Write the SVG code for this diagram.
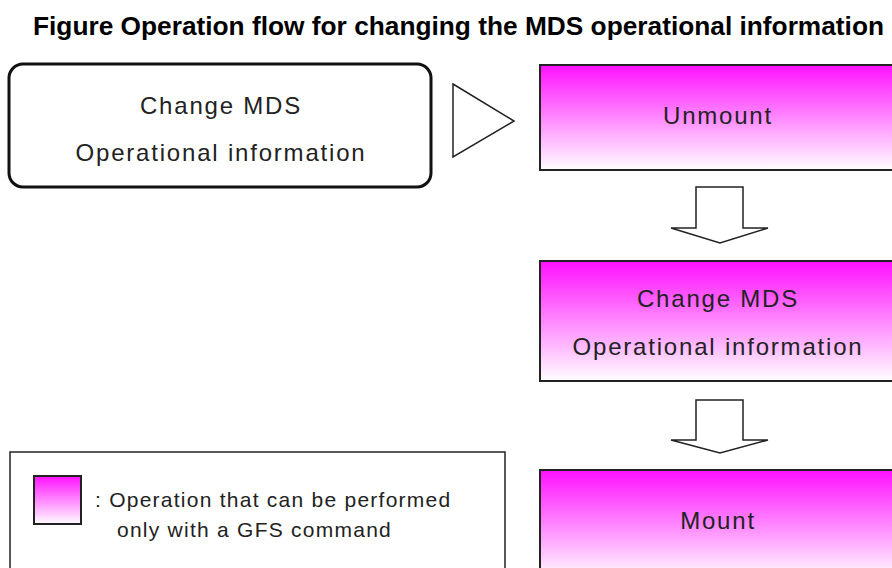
<svg xmlns="http://www.w3.org/2000/svg" width="892" height="568" viewBox="0 0 892 568">
<style>
.title{font-family:"Liberation Sans",Arial,sans-serif;font-weight:bold;font-size:25px;fill:#000}
.lbl{font-family:"Liberation Sans",Arial,sans-serif;font-size:24px;letter-spacing:1.8px;fill:#222;text-anchor:middle}
.leg{font-family:"Liberation Sans",Arial,sans-serif;font-size:21px;letter-spacing:1.25px;fill:#222}
.op{fill:url(#mg);stroke:#222;stroke-width:2}
.arr{fill:#fff;stroke:#222;stroke-width:1.5;stroke-linejoin:miter}
</style>
<defs>
<linearGradient id="mg" x1="0" y1="0" x2="0" y2="1">
<stop offset="0" stop-color="#ff10ff"/>
<stop offset="1" stop-color="#ffffff"/>
</linearGradient>
</defs>
<rect width="892" height="568" fill="#fff"/>
<text class="title" x="33" y="35" textLength="851" lengthAdjust="spacingAndGlyphs">Figure Operation flow for changing the MDS operational information</text>

<g id="start">
<rect x="9" y="64" width="422" height="123" rx="14" ry="14" fill="#fff" stroke="#111" stroke-width="3"/>
<text class="lbl" x="221" y="114">Change MDS</text>
<text class="lbl" x="221" y="161">Operational information</text>
</g>

<g id="connectors">
<polygon class="arr" points="453,84 514,121 453,157"/>
<polygon class="arr" points="696,187 743,187 743,228 768,228 720,243 671,228 696,228"/>
<polygon class="arr" points="696,400 743,400 743,440 768,440 720,453 671,440 696,440"/>
</g>

<g id="unmount">
<rect class="op" x="540" y="65" width="362" height="105"/>
<text class="lbl" x="718" y="124">Unmount</text>
</g>

<g id="change">
<rect class="op" x="540" y="261" width="362" height="120"/>
<text class="lbl" x="718" y="307">Change MDS</text>
<text class="lbl" x="718" y="355">Operational information</text>
</g>

<g id="mount">
<rect class="op" x="540" y="470" width="362" height="110"/>
<text class="lbl" x="718" y="529">Mount</text>
</g>

<g id="legend">
<rect x="10" y="452" width="495" height="130" fill="#fff" stroke="#222" stroke-width="1.5"/>
<rect class="op" x="34" y="476" width="47" height="48" stroke-width="1.5"/>
<text class="leg" x="95" y="507">: Operation that can be performed</text>
<text class="leg" x="117" y="537">only with a GFS command</text>
</g>
</svg>
